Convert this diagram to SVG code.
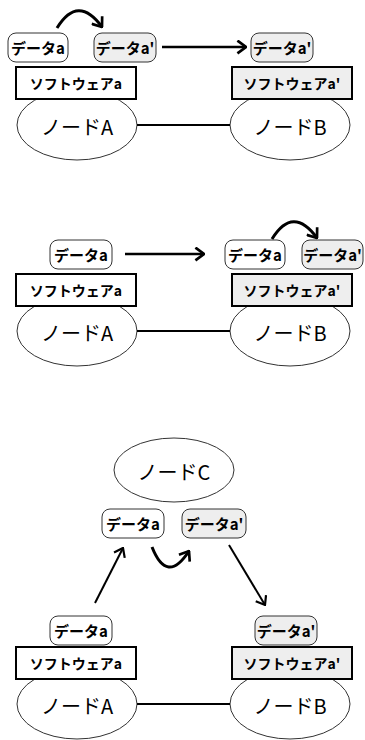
<svg xmlns="http://www.w3.org/2000/svg" width="365" height="740" viewBox="0 0 365 740">
<style>
.data{fill:#fff;stroke:#333;stroke-width:1}
.data2{fill:#eeeeee;stroke:#333;stroke-width:1}
.sw{fill:#fff;stroke:#000;stroke-width:2}
.sw2{fill:#eeeeee;stroke:#000;stroke-width:2}
.node{fill:#fff;stroke:#333;stroke-width:1}
.t{font-family:"Noto Sans CJK JP","Noto Sans",sans-serif;text-anchor:middle;dominant-baseline:central;fill:#000}
.ts{font-size:14px;font-weight:700}
.td{font-size:15px;font-weight:700}
.tn{font-size:20px}
.c{fill:none;stroke:#000}
.link{stroke:#000;stroke-width:1.8}
.a{stroke-width:2.5;marker-end:url(#ah)}
.ad{stroke-width:2;marker-end:url(#ah2)}
.ac{stroke-width:3;marker-end:url(#ah)}
</style>
<defs>
<marker id="ah" viewBox="0 0 10 14" refX="9" refY="7" markerWidth="11" markerHeight="15" markerUnits="userSpaceOnUse" orient="auto">
<path d="M1,1 L9,7 L1,13" fill="none" stroke="#000" stroke-width="2.5"/>
</marker>
<marker id="ah2" viewBox="0 0 10 14" refX="9" refY="7" markerWidth="10" markerHeight="14" markerUnits="userSpaceOnUse" orient="auto">
<path d="M1,1 L9,7 L1,13" fill="none" stroke="#000" stroke-width="2.2"/>
</marker>
</defs>

<!-- Section 1 -->
<g id="s1-nodeA"><ellipse class="node" cx="77" cy="125" rx="60" ry="35"/><text class="t tn" x="77" y="126">ノードA</text></g>
<g id="s1-nodeB"><ellipse class="node" cx="290" cy="125" rx="60" ry="35"/><text class="t tn" x="290" y="126">ノードB</text></g>
<g id="s1-swA"><rect class="sw" x="16" y="67" width="120" height="32"/><text class="t ts" x="76" y="83">ソフトウェアa</text></g>
<g id="s1-swB"><rect class="sw2" x="232" y="67" width="120" height="32"/><text class="t ts" x="292" y="83">ソフトウェアa'</text></g>
<g id="s1-dataA"><rect class="data" x="8" y="33" width="60" height="29" rx="8"/><text class="t td" x="38" y="47.5">データa</text></g>
<g id="s1-dataA2"><rect class="data2" x="94" y="33" width="62" height="29" rx="8"/><text class="t td" x="125" y="47.5">データa'</text></g>
<g id="s1-dataB2"><rect class="data2" x="251" y="33" width="62" height="29" rx="8"/><text class="t td" x="282" y="47.5">データa'</text></g>

<!-- Section 2 -->
<g id="s2-nodeA"><ellipse class="node" cx="77" cy="331" rx="60" ry="35"/><text class="t tn" x="77" y="332">ノードA</text></g>
<g id="s2-nodeB"><ellipse class="node" cx="290" cy="331" rx="60" ry="35"/><text class="t tn" x="290" y="332">ノードB</text></g>
<g id="s2-swA"><rect class="sw" x="16" y="274" width="120" height="32"/><text class="t ts" x="76" y="290">ソフトウェアa</text></g>
<g id="s2-swB"><rect class="sw2" x="232" y="274" width="120" height="32"/><text class="t ts" x="292" y="290">ソフトウェアa'</text></g>
<g id="s2-dataA"><rect class="data" x="50" y="240" width="62" height="29" rx="8"/><text class="t td" x="81" y="254.5">データa</text></g>
<g id="s2-dataB"><rect class="data" x="225" y="240" width="60" height="29" rx="8"/><text class="t td" x="255" y="254.5">データa</text></g>
<g id="s2-dataB2"><rect class="data2" x="302" y="240" width="61" height="29" rx="8"/><text class="t td" x="332.5" y="254.5">データa'</text></g>

<!-- Section 3 -->
<g id="s3-nodeC"><ellipse class="node" cx="174" cy="470" rx="60" ry="32"/><text class="t tn" x="174" y="471">ノードC</text></g>
<g id="s3-dataC"><rect class="data" x="102" y="509" width="62" height="29" rx="8"/><text class="t td" x="133" y="523.5">データa</text></g>
<g id="s3-dataC2"><rect class="data2" x="182" y="509" width="64" height="29" rx="8"/><text class="t td" x="214" y="523.5">データa'</text></g>
<g id="s3-nodeA"><ellipse class="node" cx="77" cy="704" rx="60" ry="35"/><text class="t tn" x="77" y="705">ノードA</text></g>
<g id="s3-nodeB"><ellipse class="node" cx="290" cy="704" rx="60" ry="35"/><text class="t tn" x="290" y="705">ノードB</text></g>
<g id="s3-swA"><rect class="sw" x="16" y="647" width="120" height="32"/><text class="t ts" x="76" y="663">ソフトウェアa</text></g>
<g id="s3-swB"><rect class="sw2" x="232" y="647" width="120" height="32"/><text class="t ts" x="292" y="663">ソフトウェアa'</text></g>
<g id="s3-dataA"><rect class="data" x="50" y="616" width="62" height="29" rx="8"/><text class="t td" x="81" y="630.5">データa</text></g>
<g id="s3-dataB2"><rect class="data2" x="255" y="616" width="62" height="29" rx="8"/><text class="t td" x="286" y="630.5">データa'</text></g>

<g id="connectors">
<line class="link" x1="137" y1="125" x2="230" y2="125"/>
<line class="link" x1="137" y1="331" x2="230" y2="331"/>
<line class="link" x1="137" y1="704" x2="230" y2="704"/>
<path class="c ac" d="M57,28 Q78,-6 102,27"/>
<line class="c a" x1="162" y1="47" x2="246" y2="47"/>
<line class="c a" x1="125" y1="254" x2="204" y2="254"/>
<path class="c ac" d="M272,239 Q293,205 317,238"/>
<line class="c ad" x1="95" y1="603" x2="123" y2="548"/>
<path class="c ac" d="M152,547 Q167,585 189,551"/>
<line class="c ad" x1="229" y1="545" x2="265" y2="605"/>
</g>
</svg>
